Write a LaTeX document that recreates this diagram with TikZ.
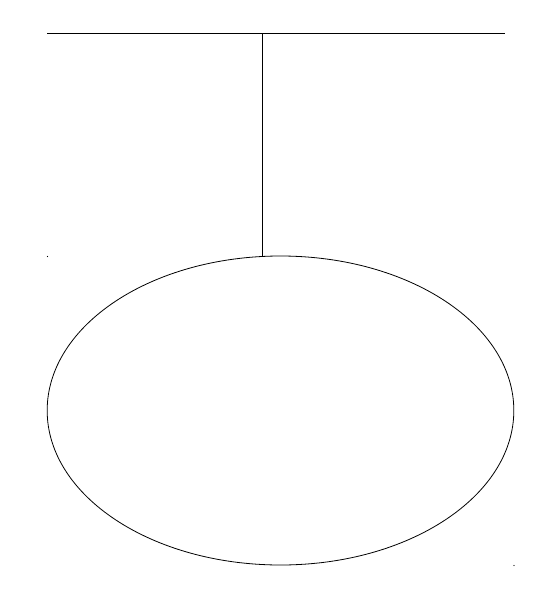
\documentclass[tikz,border=0pt]{standalone}
\usepackage{tikz}
\usetikzlibrary{shapes.geometric,calc}
\tikzset{
  ln/.style    ={draw=black,line width=0.6pt},
  blob/.style  ={ellipse,draw=black,line width=0.6pt,minimum width=350pt,minimum height=231.75pt,inner sep=0pt},
  dot/.style   ={circle,fill=black,inner sep=0pt,minimum size=1pt},
}
\begin{document}
\begin{tikzpicture}[x=0.75pt,y=-0.75pt]
\useasboundingbox (0,0) rectangle (560,597);
% top bar
\coordinate (bl) at (47,33);
\coordinate (br) at (505,33);
\coordinate (tee) at (262,33);
\draw[ln] (bl) -- (br);
% the ellipse
\node[blob] (ell) at (280.5,410.5) {};
\node[dot] (c1) at (47.5,256.5) {};
\node[dot] (c2) at (514,565.5) {};
% stem
\draw[ln] (tee) -- ($(ell.north -| tee)+(0,0.5)$);
\end{tikzpicture}
\end{document}
